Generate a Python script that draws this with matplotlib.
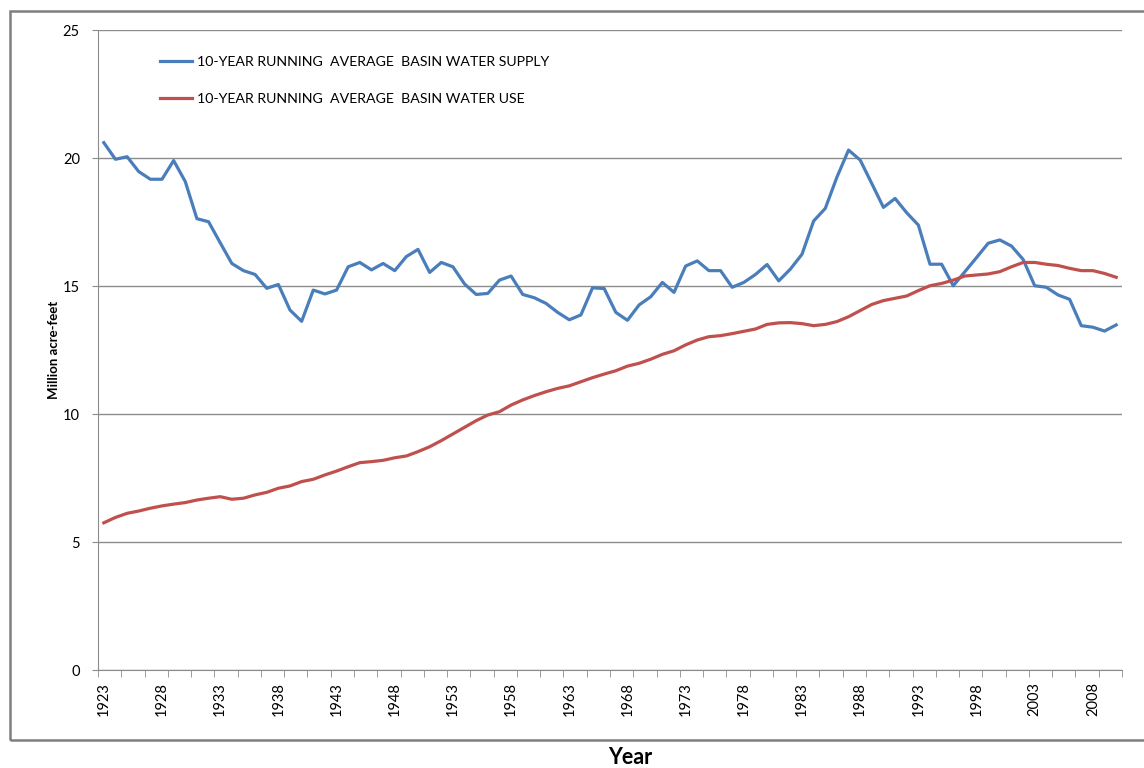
import matplotlib
matplotlib.use('Agg')
import matplotlib.pyplot as plt
from matplotlib.patches import Rectangle
from matplotlib.ticker import FixedLocator

plt.rcParams['font.family'] = ['Lato', 'DejaVu Sans']

# years 1923..2010
years = list(range(1923, 2011))

# 10-year running average basin water supply (million acre-feet)
supply = [20.6, 19.95, 20.05, 19.47, 19.17, 19.17, 19.9, 19.08, 17.63, 17.51,
          16.69, 15.88, 15.6, 15.45, 14.91, 15.06, 14.06, 13.62, 14.84, 14.69,
          14.84, 15.75, 15.92, 15.63, 15.88, 15.6, 16.15, 16.43, 15.53, 15.92,
          15.75, 15.08, 14.67, 14.71, 15.23, 15.39, 14.67, 14.54, 14.32, 13.97,
          13.68, 13.87, 14.93, 14.9, 13.97, 13.66, 14.26, 14.58, 15.14, 14.75,
          15.78, 15.98, 15.6, 15.6, 14.95, 15.14, 15.45, 15.84, 15.2, 15.66,
          16.24, 17.54, 18.03, 19.25, 20.31, 19.92, 19.0, 18.07, 18.42, 17.86,
          17.38, 15.85, 15.85, 15.01, 15.56, 16.11, 16.67, 16.8, 16.56, 16.04,
          15.01, 14.95, 14.65, 14.48, 13.45, 13.39, 13.24, 13.48]

# 10-year running average basin water use (million acre-feet)
use = [5.75, 5.96, 6.12, 6.21, 6.32, 6.41, 6.48, 6.54, 6.64, 6.71,
       6.77, 6.67, 6.71, 6.84, 6.94, 7.1, 7.19, 7.36, 7.45, 7.62,
       7.77, 7.94, 8.1, 8.14, 8.19, 8.29, 8.36, 8.53, 8.72, 8.96,
       9.22, 9.48, 9.74, 9.96, 10.09, 10.35, 10.55, 10.72, 10.87, 11.0,
       11.1, 11.26, 11.42, 11.56, 11.69, 11.87, 11.98, 12.14, 12.33, 12.47,
       12.7, 12.89, 13.02, 13.06, 13.14, 13.23, 13.32, 13.5, 13.56, 13.57,
       13.53, 13.45, 13.5, 13.61, 13.8, 14.04, 14.28, 14.43, 14.52, 14.61,
       14.82, 15.01, 15.1, 15.23, 15.39, 15.43, 15.47, 15.56, 15.75, 15.92,
       15.92, 15.85, 15.8, 15.69, 15.6, 15.6, 15.49, 15.34]

fig = plt.figure(figsize=(11.44, 7.68), dpi=100)
ax = fig.add_axes([98 / 1144, 98 / 768, 1024 / 1144, 640 / 768])

ax.plot(years, supply, color='#4a7ebb', lw=2.3,
        label='10-YEAR RUNNING  AVERAGE  BASIN WATER SUPPLY')
ax.plot(years, use, color='#c0504d', lw=2.3,
        label='10-YEAR RUNNING  AVERAGE  BASIN WATER USE')

ax.set_xlim(1922.5, 2010.5)
ax.set_ylim(0, 25)
ax.set_yticks([0, 5, 10, 15, 20, 25])
ax.grid(axis='y', color='#8c8c8c', lw=1)
ax.set_axisbelow(True)

# labels every 5 years, tick marks every 2 categories
ax.set_xticks(years[::5])
ax.tick_params(axis='x', which='major', length=0, pad=9, labelrotation=90,
               labelsize=10.5)
ax.xaxis.set_minor_locator(FixedLocator([1922.5 + 2 * i for i in range(45)]))
ax.tick_params(axis='x', which='minor', length=5, color='#8c8c8c')
ax.tick_params(axis='y', length=4, color='#8c8c8c', labelsize=10.5, pad=9)

for s in ['top', 'right']:
    ax.spines[s].set_visible(False)
ax.spines['left'].set_color('#8c8c8c')
ax.spines['bottom'].set_color('#8c8c8c')

ax.set_ylabel('Million acre-feet', fontsize=9.5, fontweight='bold', labelpad=2)
fig.text(630 / 1144, 1 - 758 / 768, 'Year', fontsize=15.5, fontweight='bold',
         ha='center', va='center')

ax.legend(loc='upper left', bbox_to_anchor=(0.048, 0.979), frameon=False,
          fontsize=10.2, handlelength=2.3, handletextpad=0.3, labelspacing=1.75)

# outer chart border
fig.patches.append(Rectangle((10 / 1144, 1 - 740 / 768), 1.2, 729 / 768,
                             transform=fig.transFigure, fill=False,
                             edgecolor='#7f7f7f', lw=1.8))

fig.savefig('out.png', dpi=100)
